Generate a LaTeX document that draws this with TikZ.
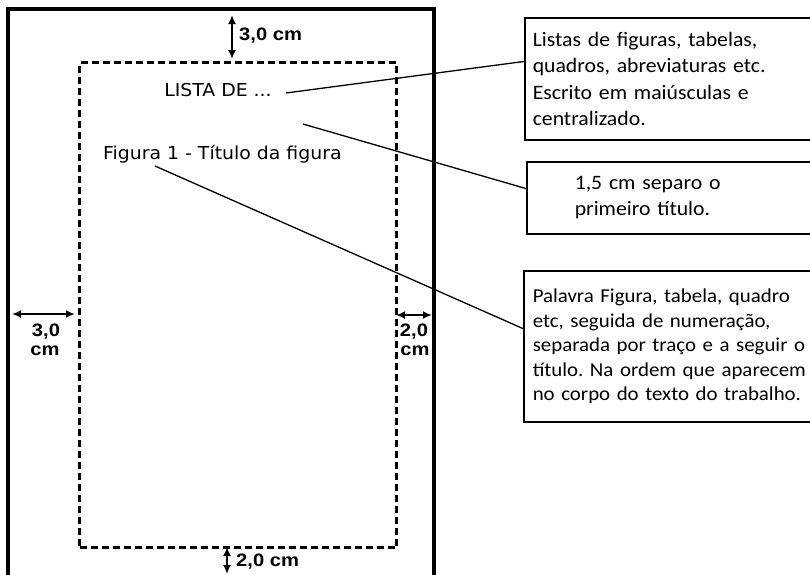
\documentclass[tikz,border=0pt]{standalone}
\usepackage{fontspec}
\setmainfont{Carlito}[FakeStretch=1.06]
\newfontfamily\verdf{DejaVu Sans}[FakeStretch=1.06]
\newfontfamily\arialf{Liberation Sans}[FakeStretch=1.12]
\usetikzlibrary{arrows.meta,calc}
\tikzset{
  pageborder/.style={line width=3.6pt},
  marginbox/.style={line width=3.2pt, dash pattern=on 7pt off 4pt},
  dimarrow/.style={line width=2.4pt, {Latex[length=9pt,width=8pt]}-{Latex[length=9pt,width=8pt]}},
  dimlabel/.style={font=\arialf\bfseries\fontsize{18}{19}\selectfont, inner sep=0pt},
  pagetext/.style={font=\verdf\fontsize{17.8}{20}\selectfont, inner sep=0pt},
  notebox/.style={draw, line width=1.5pt, anchor=north west, align=left, inner ysep=0pt},
  leader/.style={line width=1.3pt}
}
\begin{document}
\frenchspacing
\begin{tikzpicture}[x=1pt,y=-1pt]
\useasboundingbox (0,0) rectangle (810,574);
% page
\coordinate (pbl) at (8,600);
\coordinate (ptl) at (8,9);
\coordinate (ptr) at (434,9);
\coordinate (pbr) at (434,600);
\draw[pageborder] (pbl) -- (ptl) -- (ptr) -- (pbr);
% margin box
\node[marginbox, draw, minimum width=317pt, minimum height=485pt, anchor=north west, inner sep=0pt] (margin) at (78,61) {};
% texts on page
\node[pagetext, anchor=base] (lista) at (218,96) {LISTA DE ...};
\node[pagetext, anchor=base west] (figura) at (103,159) {Figura 1 - Título da figura};
% dimension arrows
\coordinate (ttop) at (232,15);
\coordinate (tbot) at (232,59);
\draw[dimarrow] (ttop) -- (tbot);
\node[dimlabel, anchor=base west] (ltop) at (239,40) {3,0 cm};
\coordinate (btop) at (227,547);
\coordinate (bbot) at (227,574);
\draw[dimarrow] (btop) -- (bbot);
\node[dimlabel, anchor=base west] (lbot) at (236,566) {2,0 cm};
\coordinate (lleft) at (12,314);
\coordinate (lright) at (75,314);
\draw[dimarrow] (lleft) -- (lright);
\node[dimlabel, anchor=base] (lleft1) at (46,336) {3,0};
\node[dimlabel, anchor=base] (lleft2) at (45,355) {cm};
\coordinate (rleft) at (396,315);
\coordinate (rright) at (432,315);
\draw[dimarrow] (rleft) -- (rright);
\node[dimlabel, anchor=base] (lright1) at (414,336) {2,0};
\node[dimlabel, anchor=base] (lright2) at (415,355) {cm};
% note boxes
\node[notebox, inner xsep=8pt, text width=295pt, minimum height=122pt, font=\fontsize{20.5}{26.5}\selectfont] (box1) at (524,17)
 {Listas de figuras, tabelas,\\quadros, abreviaturas etc.\\Escrito em maiúsculas e\\centralizado.};
\node[notebox, inner xsep=48pt, text width=255pt, minimum height=72pt, font=\fontsize{20.5}{26}\selectfont] (box2) at (526,161)
 {1,5 cm separo o\\primeiro título.};
\node[notebox, inner xsep=9pt, text width=295pt, minimum height=151pt, font=\fontsize{19.7}{24.5}\selectfont] (box3) at (523,270)
 {Palavra Figura, tabela, quadro\\etc, seguida de numeração,\\separada por traço e a seguir o\\título. Na ordem que aparecem\\no corpo do texto do trabalho.};
% leaders
\coordinate (s1) at (286,93);
\coordinate (s2) at (303,124);
\coordinate (s3) at (155,166);
\draw[leader] (s1) -- ($(box1.north west)!0.36!(box1.south west)$);
\draw[leader] (s2) -- ($(box2.north west)!0.375!(box2.south west)$);
\draw[leader] (s3) -- ($(box3.north west)!0.384!(box3.south west)$);
\end{tikzpicture}
\end{document}
